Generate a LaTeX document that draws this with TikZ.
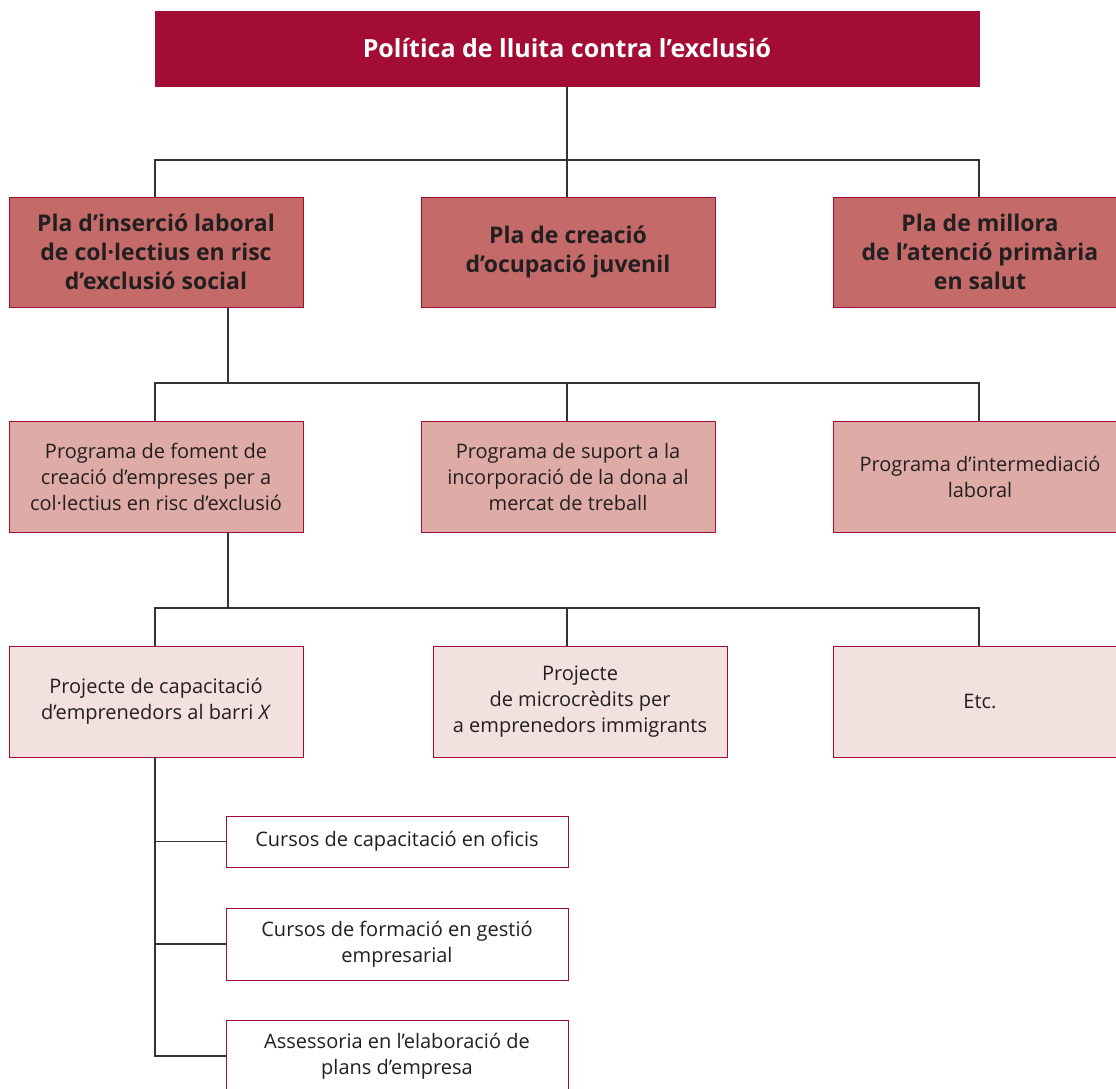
\documentclass[tikz,border=0pt]{standalone}
\usepackage{fontspec}
\setmainfont{Open Sans}
\begin{document}
\begin{tikzpicture}[x=1pt,y=-1pt]
\definecolor{crim}{HTML}{A30D35}
\definecolor{lvlone}{HTML}{C46B6A}
\definecolor{lvltwo}{HTML}{DFABA7}
\definecolor{lvlthree}{HTML}{F3E1DF}
\definecolor{txt}{HTML}{231F20}
\definecolor{conn}{HTML}{333333}
\tikzset{
  box/.style={draw=crim, line width=0.9pt, align=center, inner sep=0pt, text=txt},
  topbox/.style={box, fill=crim, text=white, minimum width=824pt, minimum height=75pt,
    font=\fontsize{25}{30}\selectfont\bfseries},
  onebox/.style={box, fill=lvlone, minimum width=294pt, minimum height=110pt,
    font=\fontsize{23}{29}\selectfont\bfseries},
  twobox/.style={box, fill=lvltwo, minimum width=294pt, minimum height=111pt,
    font=\fontsize{20}{26}\selectfont},
  threebox/.style={box, fill=lvlthree, minimum width=294pt, minimum height=111pt,
    font=\fontsize{20}{26}\selectfont},
  leafbox/.style={box, fill=white, minimum width=342pt,
    font=\fontsize{20}{26}\selectfont},
  wire/.style={draw=conn, line width=1.2pt}
}
\useasboundingbox (0,0) rectangle (1116,1088);
% nodes
\node[topbox] (top) at (567,48.5) {Política de lluita contra l’exclusió};
\node[onebox] (p1) at (156,252) {Pla d’inserció laboral\\de col·lectius en risc\\d’exclusió social};
\node[onebox] (p2) at (568,252) {Pla de creació\\d’ocupació juvenil};
\node[onebox] (p3) at (980,252) {Pla de millora\\de l’atenció primària\\en salut};
\node[twobox] (g1) at (156,476.5) {Programa de foment de\\creació d’empreses per a\\col·lectius en risc d’exclusió};
\node[twobox] (g2) at (568,476.5) {Programa de suport a la\\incorporació de la dona al\\mercat de treball};
\node[twobox] (g3) at (980,476.5) {Programa d’intermediació\\laboral};
\node[threebox] (r1) at (156,701.5) {Projecte de capacitació\\d’emprenedors al barri \textit{X}};
\node[threebox] (r2) at (580,701.5) {Projecte\\de microcrèdits per\\a emprenedors immigrants};
\node[threebox] (r3) at (980,701.5) {Etc.};
\node[leafbox, minimum height=51pt] (c1) at (397,841.5) {Cursos de capacitació en oficis};
\node[leafbox, minimum height=72pt] (c2) at (397,944) {Cursos de formació en gestió\\empresarial};
\node[leafbox, minimum height=72pt] (c3) at (397,1056) {Assessoria en l’elaboració de\\plans d’empresa};
% coordinates for buses
\coordinate (b1) at (567,160);
\coordinate (b2) at (228,383);
\coordinate (b3) at (228,608);
% connectors
\draw[wire] (top.south) -- (b1);
\draw[wire] (p1.north -| 155,0) |- (b1) -| (p3.north -| 979,0);
\draw[wire] (b1) -- (p2.north -| 567,0);
\draw[wire] (p1.south -| b2) -- (b2);
\draw[wire] (g1.north -| 155,0) |- (b2 |- 0,383) -| (g3.north -| 979,0);
\draw[wire] (155,383) -- (979,383);
\draw[wire] (567,383) -- (g2.north -| 567,0);
\draw[wire] (g1.south -| b3) -- (b3);
\draw[wire] (r1.north -| 155,0) |- (979,608) -- (r3.north -| 979,0);
\draw[wire] (567,608) -- (r2.north -| 567,0);
\draw[wire] (r1.south -| 155,0) |- (c3.west);
\draw[wire] (155,0 |- c1.west) -- (c1.west);
\draw[wire] (155,0 |- c2.west) -- (c2.west);
\end{tikzpicture}
\end{document}
